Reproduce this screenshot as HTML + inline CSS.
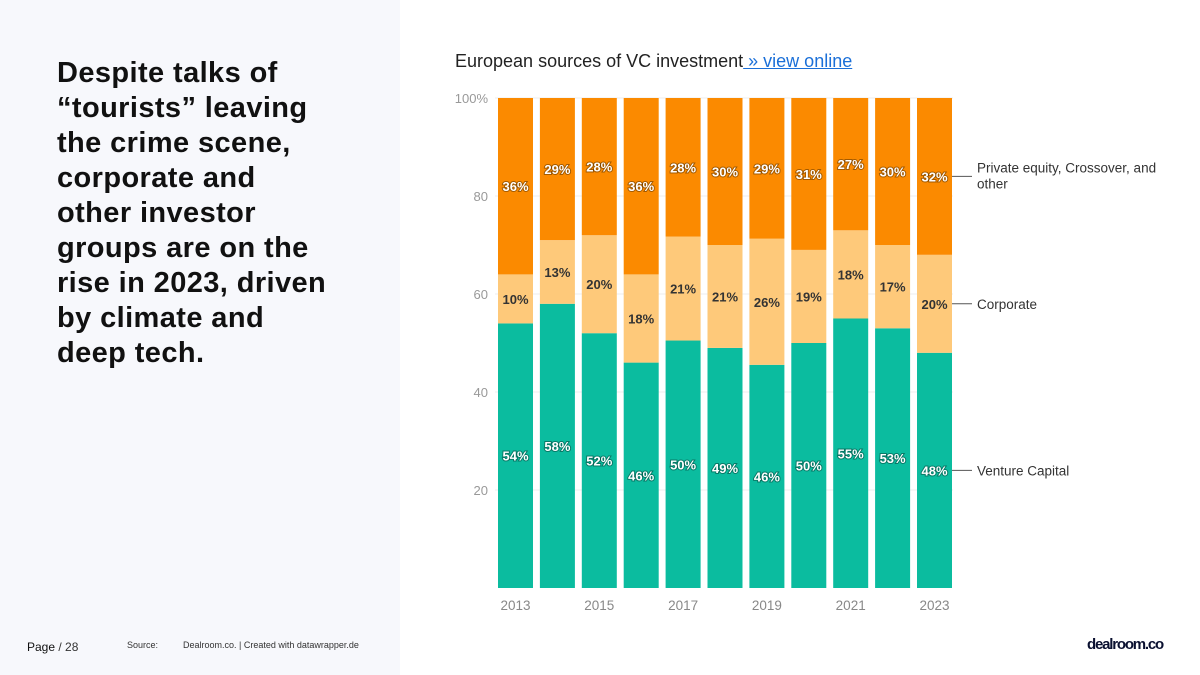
<!DOCTYPE html>
<html><head><meta charset="utf-8"><style>
body{margin:0;width:1200px;height:675px;position:relative;background:#fff;font-family:"Liberation Sans",sans-serif;overflow:hidden}
#left{position:absolute;left:0;top:0;width:400px;height:675px;background:#f7f8fc}
#headline{position:absolute;left:57px;top:56px;width:330px;font-size:29px;letter-spacing:0.4px;font-weight:bold;line-height:35px;color:#111;white-space:nowrap}
.foot{position:absolute;top:640px;font-size:11px;color:#333}
#title{position:absolute;left:455px;top:51px;font-size:18px;color:#222}
#title a{color:#1a6fd8;text-decoration:underline}
</style></head><body>
<div id="left"></div>
<div id="headline">Despite talks of<br>“tourists” leaving<br>the crime scene,<br>corporate and<br>other investor<br>groups are on the<br>rise in 2023, driven<br>by climate and<br>deep tech.</div>
<div class="foot" style="left:27px;font-size:12px"><b style="font-weight:normal;color:#111">Page</b> / 28</div>
<div class="foot" style="left:127px;font-size:9px">Source:</div>
<div class="foot" style="left:183px;font-size:9px">Dealroom.co. | Created with datawrapper.de</div>
<div style="position:absolute;left:1087px;top:636px;font-size:15px;font-weight:bold;color:#0a1030;letter-spacing:-1.2px">dealroom.co</div>
<div id="title">European sources of VC investment<a> » view online</a></div>
<svg id="chart" width="1200" height="675" style="position:absolute;left:0;top:0"></svg>
<script>
const years=[2013,2014,2015,2016,2017,2018,2019,2020,2021,2022,2023];
const vc=[54,58,52,46,50,49,46,50,55,53,48];
const corp=[10,13,20,18,21,21,26,19,18,17,20];
const pe=[36,29,28,36,28,30,29,31,27,30,32];
const yTicks=[100,80,60,40,20];
const seriesNames=["Venture Capital","Corporate","Private equity, Crossover, and other"];
const NS="http://www.w3.org/2000/svg";
const svg=document.getElementById('chart');
const x0=498,step=41.9,bw=35,yTop=98,yBot=588;
const y=v=>yBot-(yBot-yTop)*v/100;
const xb=i=>x0+i*step;
function mk(t,a){const e=document.createElementNS(NS,t);for(const k in a)e.setAttribute(k,a[k]);svg.appendChild(e);return e;}
yTicks.forEach(t=>{
 const g=mk('line',{x1:495,x2:953,y1:y(t),y2:y(t),stroke:'#eee'});
 
 
 const l=mk('text',{x:488,y:y(t)+5,'text-anchor':'end','font-size':13,fill:'#999','font-family':'Liberation Sans'});
 l.textContent=t===100?'100%':t;
 
 
});
const colors=['#0bbc9f','#fec97a','#fb8a00'];
const txtCol=['#fff','#333','#fff'];
years.forEach((yr,i)=>{
 const vals=[vc[i],corp[i],pe[i]];const tot=vals.reduce((a,b)=>a+b,0);
 let acc=0;
 vals.forEach((v,s)=>{
  const a=acc/tot*100,b=(acc+v)/tot*100;acc+=v;
  const r=mk('rect',{x:xb(i),y:y(b),width:bw,height:y(a)-y(b),fill:colors[s]});
  
  
  const t=mk('text',{x:xb(i)+bw/2,y:(y(a)+y(b))/2+5,'text-anchor':'middle','font-size':13,'font-weight':'bold',fill:txtCol[s],'font-family':'Liberation Sans'});
  if(s!==1)t.setAttribute('style','paint-order:stroke;stroke:rgba(0,0,0,0.35);stroke-width:2px');
  t.textContent=v+'%';
  
  
  if(i===years.length-1){
   const my=(y(a)+y(b))/2;
   const ln=mk('line',{x1:952,x2:972,y1:my,y2:my,stroke:'#555'});
   
   
   const lt=mk('text',{x:977,y:my+5,'font-size':13.5,fill:'#333','font-family':'Liberation Sans'});
   if(s===2){lt.setAttribute('y',my-4);lt.innerHTML='<tspan x="977">Private equity, Crossover, and</tspan><tspan x="977" dy="16">other</tspan>';}
   else lt.textContent=seriesNames[s];
   
   
  }
 });
 if(i%2===0){
  const xl=mk('text',{x:xb(i)+bw/2,y:610,'text-anchor':'middle','font-size':13.5,fill:'#888','font-family':'Liberation Sans'});
  xl.textContent=yr;
  
  
 }
});
</script>
</body></html>
